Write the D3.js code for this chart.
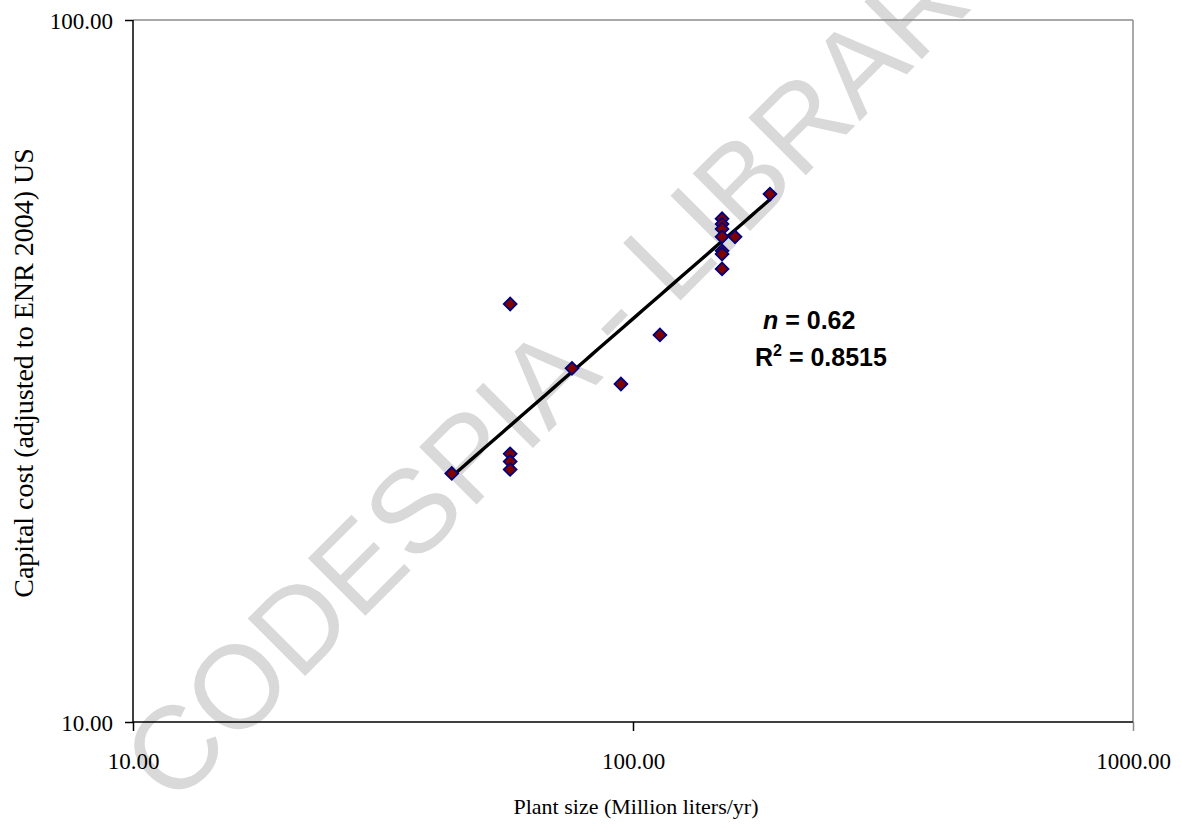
<!DOCTYPE html>
<html>
<head>
<meta charset="utf-8">
<script src="https://cdn.jsdelivr.net/npm/d3@7"></script>
<style>
  html, body { margin: 0; padding: 0; background: #fff; }
  svg { display: block; }
</style>
</head>
<body>
<svg id="chart" width="1181" height="825"></svg>
<script>
// ---- data ----
const plantSize = [43.4, 56.8, 56.8, 56.8, 56.8, 75.5, 94.6, 113.2, 150.7, 150.7, 150.7, 150.7, 150.7, 150.7, 150.7, 160.0, 187.9];
const capitalCost = [22.6, 24.1, 23.5, 22.9, 39.4, 31.9, 30.3, 35.6, 52.1, 51.2, 50.4, 49.1, 46.9, 46.4, 44.2, 49.1, 56.5];
const xTickValues = [10, 100, 1000];
const yTickValues = [10, 100];
const trendExponent = [0.62];
const trendCoefficient = [2.16];
const trendRange = [43.4, 187.9];
const annotationN = ["n", " = 0.62"];
const annotationR = ["R", "2", " = 0.8515"];
const xTitle = "Plant size (Million liters/yr)";
const yTitle = "Capital cost (adjusted to ENR 2004) US";
const watermark = "CODESPIA - LIBRARY";

// ---- layout ----
const svg = d3.select("#chart");
const pL = 133, pR = 1133, pT = 20, pB = 722;

const x = d3.scaleLog().domain([10, 1000]).range([pL, pR]);
const y = d3.scaleLog().domain([10, 100]).range([pB, pT]);
const fmt = d3.format(".2f");

// watermark (behind the marks)
svg.append("text")
  .attr("transform", "translate(173,808) rotate(-45)")
  .attr("text-anchor", "start")
  .attr("font-family", "Arial, 'Liberation Sans', sans-serif").attr("font-size", 118)
  .attr("fill", "#d9d9d9")
  .text(watermark);

// plot border (top/right grey)
svg.append("line").attr("x1", pL).attr("x2", pR).attr("y1", pT).attr("y2", pT)
  .attr("stroke", "#8c8c8c").attr("stroke-width", 1.5);
svg.append("line").attr("x1", pR).attr("x2", pR).attr("y1", pT).attr("y2", pB)
  .attr("stroke", "#8c8c8c").attr("stroke-width", 1.5);

// axes
const xAxis = d3.axisBottom(x).tickValues(xTickValues).tickFormat(fmt).tickSize(9).tickPadding(22);
const yAxis = d3.axisLeft(y).tickValues(yTickValues).tickFormat(fmt).tickSize(8).tickPadding(12);

const gx = svg.append("g").attr("transform", `translate(0,${pB})`).call(xAxis);
const gy = svg.append("g").attr("transform", `translate(${pL},0)`).call(yAxis);
[gx, gy].forEach(g => {
  g.select(".domain").attr("stroke", "#000").attr("stroke-width", 1.5);
  g.selectAll(".tick line").attr("stroke", "#000").attr("stroke-width", 1.5);
  g.selectAll(".tick text").attr("font-family", "'Liberation Serif', 'Times New Roman', serif")
    .attr("font-size", 23).attr("fill", "#000");
});
gx.select(".domain").attr("d", `M${pL},0H${pR}`);
gy.select(".domain").attr("d", `M0,${pT}V${pB}`);
gx.selectAll(".tick line").filter(d => d === 1000).attr("stroke", "#8c8c8c");
gy.selectAll(".tick text").attr("dy", "0.36em");

// axis titles
svg.append("text").attr("x", (pL + pR) / 2 + 3).attr("y", 814)
  .attr("text-anchor", "middle")
  .attr("font-family", "'Liberation Serif', 'Times New Roman', serif").attr("font-size", 22)
  .text(xTitle);
svg.append("text").attr("transform", `translate(33,${(pT + pB) / 2 + 2}) rotate(-90)`)
  .attr("text-anchor", "middle")
  .attr("font-family", "'Liberation Serif', 'Times New Roman', serif").attr("font-size", 28)
  .text(yTitle);

// trend line
const trendPts = d3.range(0, 51).map(i => {
  const lx = Math.log10(trendRange[0]) + (Math.log10(trendRange[1]) - Math.log10(trendRange[0])) * i / 50;
  const xv = Math.pow(10, lx);
  return [xv, trendCoefficient[0] * Math.pow(xv, trendExponent[0])];
});
svg.append("path").datum(trendPts)
  .attr("d", d3.line().x(d => x(d[0])).y(d => y(d[1])))
  .attr("fill", "none").attr("stroke", "#000").attr("stroke-width", 3.4)
  .attr("stroke-linecap", "round");

// points
const sym = d3.symbol().type(d3.symbolSquare).size(82);
svg.append("g").selectAll("path").data(plantSize.map((v, i) => [v, capitalCost[i]]))
  .join("path")
  .attr("d", sym)
  .attr("transform", d => `translate(${x(d[0])},${y(d[1])}) rotate(45)`)
  .attr("fill", "#800000").attr("stroke", "#000080").attr("stroke-width", 1.8);

// annotation
const ann = svg.append("g").attr("font-family", "Arial, 'Liberation Sans', sans-serif")
  .attr("font-weight", "bold").attr("font-size", 25).attr("fill", "#000");
const t1 = ann.append("text").attr("x", 763).attr("y", 329);
t1.append("tspan").attr("font-style", "italic").text(annotationN[0]);
t1.append("tspan").attr("xml:space", "preserve").text(annotationN[1]);
const t2 = ann.append("text").attr("x", 755).attr("y", 366);
t2.append("tspan").text(annotationR[0]);
t2.append("tspan").attr("font-size", 16).attr("dy", -10).text(annotationR[1]);
t2.append("tspan").attr("dy", 10).attr("xml:space", "preserve").text(annotationR[2]);
</script>
</body>
</html>
